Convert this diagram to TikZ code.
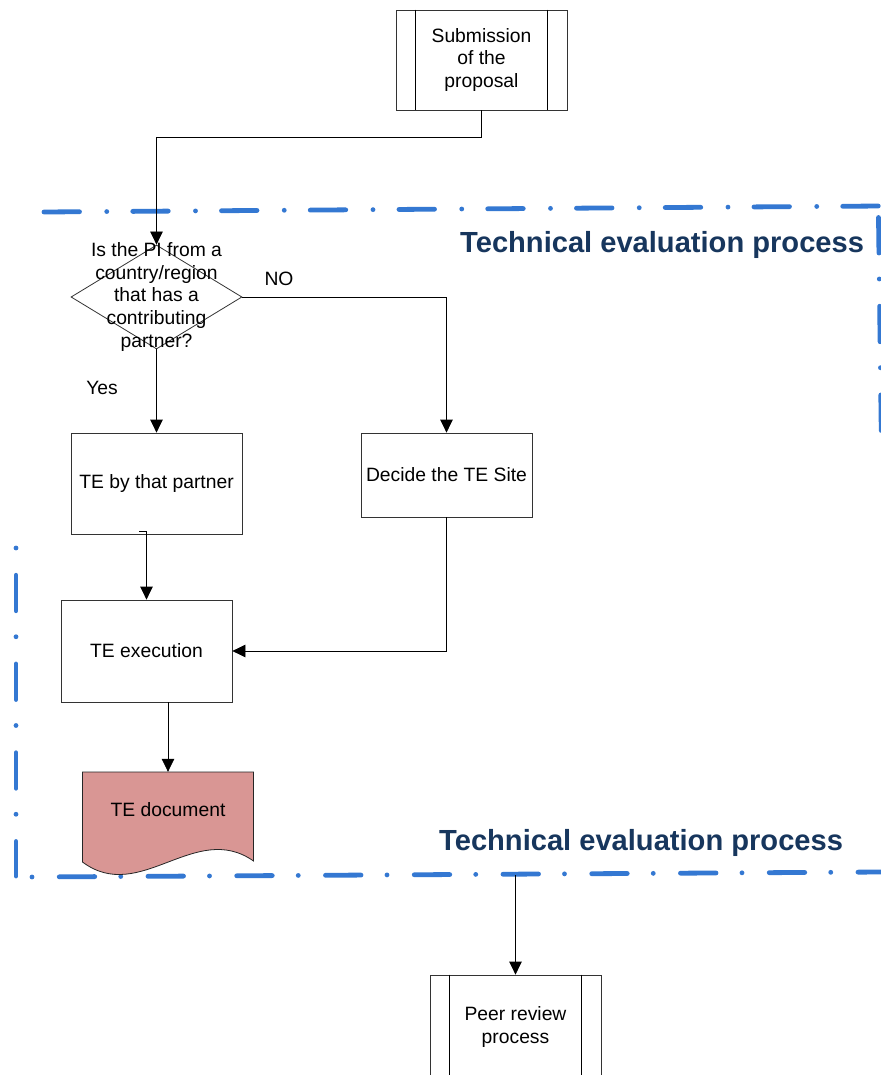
\documentclass[tikz,border=0pt]{standalone}
\usepackage{fontspec}
\setmainfont{Liberation Sans}
\usetikzlibrary{arrows.meta,shapes.geometric,calc}
\definecolor{frameblue}{RGB}{52,120,210}
\definecolor{titleblue}{RGB}{23,54,93}
\definecolor{docfill}{RGB}{217,150,148}
\begin{document}
\begin{tikzpicture}[x=1pt,y=-1pt,
  every node/.style={font=\fontsize{19.3}{22.7}\selectfont},
  procbox/.style={draw=black!80, line width=0.8pt, minimum width=171pt, inner sep=0pt, align=center},
  decbox/.style={draw=black!80, line width=0.8pt, diamond, minimum width=171pt, minimum height=104pt, inner sep=0pt},
  conn/.style={line width=0.8pt, -{Triangle[length=13pt,width=12.5pt]}},
  plainline/.style={line width=0.8pt},
  frameline/.style={line width=4.8pt, draw=frameblue, line cap=round},
  titletext/.style={anchor=base west, inner sep=0pt, text=titleblue, font=\fontsize{29.1}{34}\selectfont\bfseries}]
\useasboundingbox[fill=white] (0,0) rectangle (880,1075);

% frame lines
\draw[frameline, dash pattern=on 35.5pt off 27.25pt on 0pt off 26pt] (44,212) -- (882,206);
\draw[frameline, dash pattern=on 35.5pt off 26pt on 0pt off 27.25pt] (878.5,217.5) -- (881.5,450);
\draw[frameline, dash pattern=on 0pt off 27.25pt on 35.5pt off 26pt] (16,548) -- (16,876);
\draw[frameline, dash pattern=on 0pt off 27.25pt on 35.5pt off 26pt] (32,877) -- (882,872);
\coordinate (fb) at (515.5,875);

% titles
\node[titletext] (t1) at (460,252) {Technical evaluation process};
\node[titletext] (t2) at (439,850) {Technical evaluation process};

% nodes
\node[procbox, minimum height=100pt] (sub) at (481.5,60) {Submission\\of the\\proposal};
\draw[plainline] ([xshift=20pt]sub.north west) -- ([xshift=20pt]sub.south west);
\draw[plainline] ([xshift=-20pt]sub.north east) -- ([xshift=-20pt]sub.south east);

\node[decbox] (q) at (156.5,297) {};
\node[align=center, inner sep=0pt] (qt) at (156.5,297) {Is the PI from a\\country/region\\that has a\\contributing\\partner?};

\node[inner sep=0pt] (no) at (279,279) {NO};
\node[inner sep=0pt] (yes) at (102,388) {Yes};

\node[procbox, minimum height=101pt] (tbp) at (156.5,483.5) {TE by that partner};
\node[procbox, minimum height=84pt] (dec) at (446.5,475) {Decide the TE Site};
\node[procbox, minimum height=102pt] (exe) at (146.5,651) {TE execution};

\filldraw[fill=docfill, draw=black!85, plainline] (82.5,772) -- (253.5,772) -- (253.5,861) .. controls (195,820) and (140,905) .. (82.5,862) -- cycle;
\node[minimum width=171pt, minimum height=76pt, inner sep=0pt] (doc) at (168,810) {TE document};

\node[procbox, minimum height=104pt] (peer) at (515.5,1027) {Peer review\\process};
\draw[plainline] ([xshift=20pt]peer.north west) -- ([xshift=20pt]peer.south west);
\draw[plainline] ([xshift=-20pt]peer.north east) -- ([xshift=-20pt]peer.south east);

% connectors
\draw[conn] (sub.south) -- ++(0,27) -| (q.north);
\draw[conn] (q.east) -| (dec.north);
\draw[conn] (q.south) -- (tbp.north);
\coordinate (j) at ($(tbp.south)+(-17.5,-3)$);
\draw[conn] (j) -| (exe.north);
\draw[conn] (dec.south) |- (exe.east);
\draw[conn] ($(exe.south)+(21.5,0)$) -- (doc.north);
\draw[conn] (fb) -- (peer.north);
\end{tikzpicture}
\end{document}
